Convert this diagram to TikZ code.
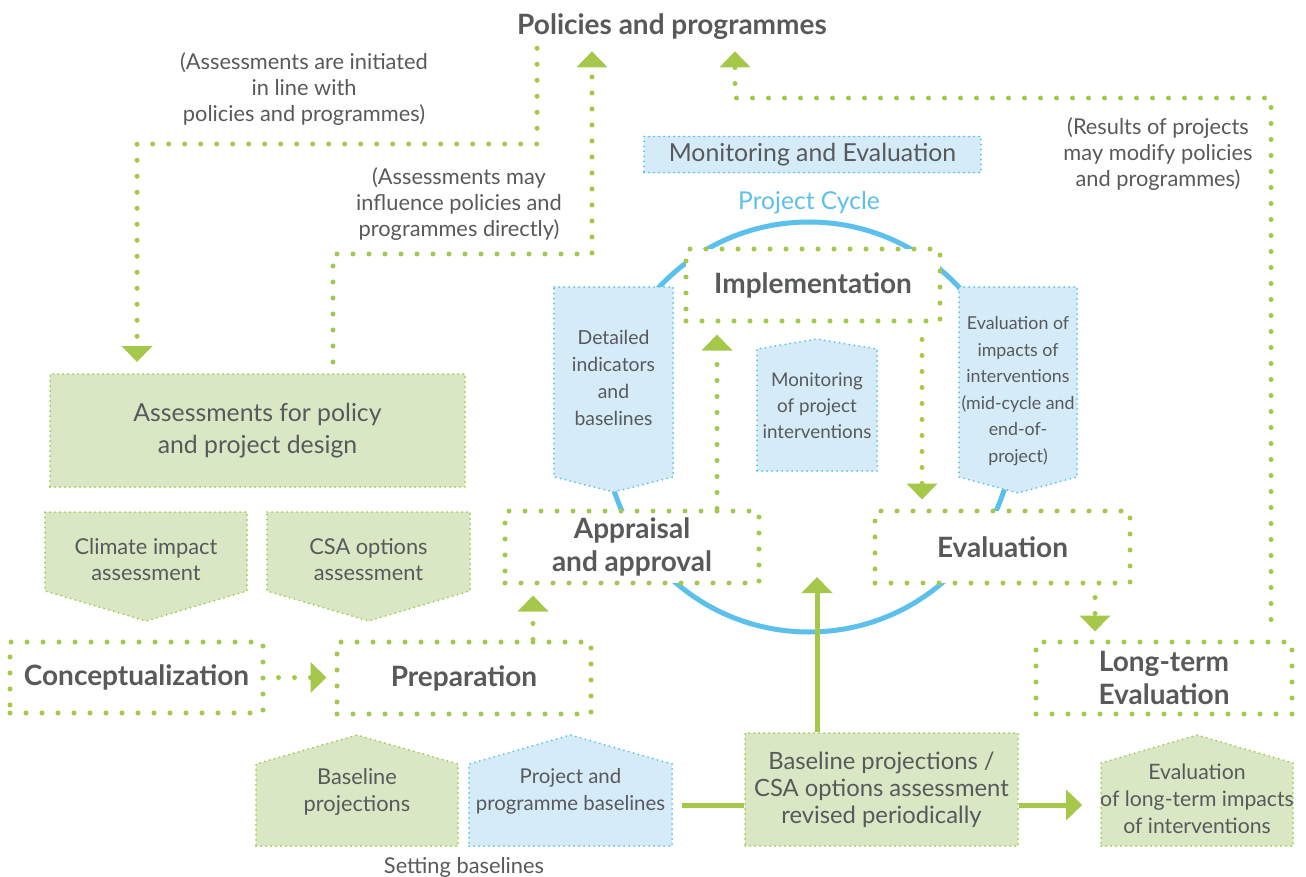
\documentclass[tikz,border=0pt]{standalone}
\usepackage{fontspec}
\setmainfont{Lato}
\usetikzlibrary{positioning,arrows.meta,calc}

\definecolor{leaf}{HTML}{A5C84A}
\definecolor{leaffill}{HTML}{D9E7C5}
\definecolor{sky}{HTML}{5BC0EB}
\definecolor{skyfill}{HTML}{D5EBF8}
\definecolor{ink}{HTML}{58595B}

\newcommand{\hdfont}{\fontsize{14}{16.5}\selectfont\bfseries}
\newcommand{\bxfont}{\fontsize{12.4}{16}\selectfont}
\newcommand{\rmkfont}{\fontsize{10.9}{13}\selectfont}
\newcommand{\smfont}{\fontsize{9.7}{13.5}\selectfont}
\newcommand{\tinyfont}{\fontsize{8.9}{13.3}\selectfont}
\newcommand{\cycfont}{\fontsize{12.3}{13}\selectfont}

% pentagon panel: left, right, flat edge y, side end y, tip y, style
\newcommand{\pent}[6]{\filldraw[#6] (#1,#3) -- (#2,#3) -- (#2,#4) -- ({(#1+#2)/2},#5) -- (#1,#4) -- cycle;}

\begin{document}
\begin{tikzpicture}[x=0.5pt, y=-0.5pt, >={Triangle[width=15pt,length=8pt]},
  every node/.style={text=ink, align=center},
  bigdots/.style={draw=leaf, line width=2.5pt, line cap=round, dash pattern=on 0pt off 8pt},
  finedots/.style={line width=1pt, line cap=round, dash pattern=on 0pt off 2.5pt},
  stage/.style={bigdots, fill=white, font=\hdfont, minimum width=127pt, minimum height=36pt},
  greenbox/.style={finedots, draw=leaf, fill=leaffill},
  bluebox/.style={finedots, draw=sky, fill=skyfill},
  link/.style={bigdots, ->},
  feed/.style={draw=leaf, line width=2.5pt},
  ring/.style={draw=sky, line width=2.5pt}]
  \useasboundingbox (0,0) rectangle (1306,877);

  % top level and remarks
  \node[font=\hdfont, inner xsep=0pt, inner ysep=4pt] (policy) at (672,27) {Policies and programmes};
  \node[font=\rmkfont] (rem1) at (304,89) {(Assessments are initiated\\in line with\\policies and programmes)};
  \node[font=\rmkfont] (rem2) at (459,204) {(Assessments may\\influence policies and\\programmes directly)};
  \node[font=\rmkfont] (rem3) at (1158,154) {(Results of projects\\may modify policies\\and programmes)};

  % project cycle
  \draw[ring] (809,427) circle [radius=102.5pt];
  \node[bluebox, font=\bxfont, minimum width=168.5pt, minimum height=17.5pt] (me) at (812.5,154.5) {Monitoring and Evaluation};
  \node[font=\cycfont, text=sky] (cyclab) at (809,203) {Project Cycle};

  \pent{554}{673}{287}{477}{492}{bluebox}
  \node[font=\smfont] (detail) at (613.5,378) {Detailed\\indicators\\and\\baselines};
  \pent{959}{1077}{287}{477}{493}{bluebox}
  \node[font=\tinyfont] (impacts) at (1018,391) {Evaluation of\\impacts of\\interventions\\(mid-cycle and\\end-of-\\project)};
  \pent{757}{877}{471}{349}{339}{bluebox}
  \node[font=\fontsize{9.4}{13}\selectfont] (monit) at (817,406) {Monitoring\\of project\\interventions};

  \node[stage] (impl) at (813,285) {Implementation};
  \node[stage] (appr) at (632,547) {Appraisal\\and approval};
  \node[stage, minimum width=127.5pt] (eval) at (1002.5,547) {Evaluation};

  % assessments
  \node[greenbox, font=\bxfont, minimum width=207.5pt, minimum height=56.5pt] (assess) at (257.5,430.5) {Assessments for policy\\and project design};
  \pent{45}{247}{512}{591}{621}{greenbox}
  \node[font=\rmkfont] (climate) at (146,560) {Climate impact\\assessment};
  \pent{267}{470}{512}{591}{621}{greenbox}
  \node[font=\rmkfont] (csaopt) at (368.5,560) {CSA options\\assessment};

  \node[stage, minimum width=126.5pt, minimum height=35.5pt] (concept) at (136.5,677.5) {Conceptualization};
  \node[stage] (prep) at (464,678) {Preparation};
  \node[stage, minimum width=128pt] (lte) at (1164,678) {Long-term\\Evaluation};

  % baselines
  \pent{256}{458}{846}{764}{735}{greenbox}
  \node[font=\fontsize{10.9}{13.5}\selectfont] (baseproj) at (357,791.5) {Baseline\\projections};
  \pent{469}{672}{846}{764}{735}{bluebox}
  \node[font=\fontsize{10.2}{13.5}\selectfont, minimum width=101.5pt] (progbase) at (570.5,791.5) {Project and\\programme baselines};
  \node[font=\rmkfont] (setbase) at (464,867) {Setting baselines};
  \node[greenbox, font=\fontsize{11.9}{13.5}\selectfont, minimum width=136.5pt, minimum height=56.5pt] (csa) at (881.5,789.5) {Baseline projections /\\CSA options assessment\\revised periodically};
  \pent{1101}{1293}{846}{763}{735}{greenbox}
  \node[font=\fontsize{10.6}{13.5}\selectfont, minimum width=96pt] (ltimpact) at (1197,799) {Evaluation\\of long-term impacts\\of interventions};

  % dotted links
  \coordinate (b1) at (537,144);
  \coordinate (b2) at (137,144);
  \draw[link, shorten >=5.5pt] (policy.south -| b1) -- (b1) -- (b2) -- (assess.north -| b2);
  \coordinate (b3) at (333,254);
  \coordinate (b4) at (592,254);
  \draw[link, shorten <=5.5pt, shorten >=1.5pt] (assess.north -| b3) -- (b3) -- (b4) -- (policy.south -| b4);
  \coordinate (b5) at (1271,98);
  \coordinate (b6) at (735,98);
  \draw[link, shorten <=10pt, shorten >=1.5pt] (lte.north -| b5) -- (b5) -- (b6) -- (policy.south -| b6);

  \draw[link, shorten <=6.5pt, shorten >=4pt] (concept.east) -- (concept.east -| prep.west);
  \draw[link, shorten >=5pt] ([xshift=34.5pt]prep.north) -- ([xshift=34.5pt]prep.north |- appr.south);
  \draw[link, shorten >=5.5pt] ([xshift=42.5pt]appr.north) -- ([xshift=42.5pt]appr.north |- impl.south);
  \draw[link, shorten <=8pt, shorten >=4.5pt] ([xshift=54.5pt]impl.south) -- ([xshift=54.5pt]impl.south |- eval.north);
  \draw[link, shorten <=6pt, shorten >=4pt] ([xshift=46.25pt]eval.south) -- ([xshift=46.25pt]eval.south |- lte.north);

  % solid feed lines
  \coordinate (lvl) at (0,805);
  \coordinate (cycin) at (817,577);
  \draw[feed, shorten <=5pt] (progbase.east |- lvl) -- (csa.west |- lvl);
  \draw[feed, ->, shorten >=5.5pt] (csa.east |- lvl) -- (ltimpact.west |- lvl);
  \draw[feed, ->] (csa.north -| cycin) -- (cycin);
\end{tikzpicture}
\end{document}
